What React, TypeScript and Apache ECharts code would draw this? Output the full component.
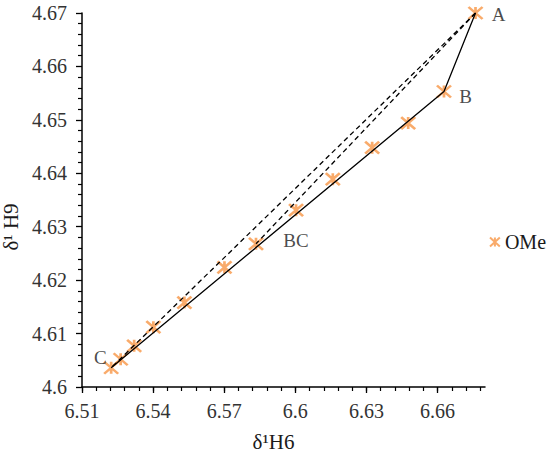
import React, { useEffect, useRef } from "react";
import * as echarts from "echarts";

// Data
const xValues = [6.676, 6.6627, 6.6476, 6.6324, 6.6158, 6.6003, 6.5834, 6.5701, 6.5532, 6.5401, 6.532, 6.5263, 6.5223];
const yValues = [4.67, 4.6553, 4.6494, 4.6448, 4.6389, 4.6331, 4.6268, 4.6224, 4.6158, 4.6112, 4.6077, 4.6052, 4.6036];
const pointNames = ["A", "B", "", "", "", "", "BC", "", "", "", "", "", "C"];
const solidPath = ["A", "B", "C"];
const dashedPaths = [["A", "C"], ["A", "BC"]];
const seriesName = "OMe";

const xMin = 6.51;
const xMax = 6.68;
const xMajorTicks = [6.51, 6.54, 6.57, 6.6, 6.63, 6.66];
const xMinorStep = 0.006;
const yMin = 4.6;
const yMax = 4.67;
const yStep = 0.01;

const ORANGE = "#F79646";
const FONT = "'Liberation Serif', 'Times New Roman', serif";
const STAR = "path://M0,0L12,11M12,0L0,11M6,0L6,11";

const labelPlacement: Record<string, any> = {
  A: { position: "right", distance: 8, offset: [0, 1] },
  B: { position: "right", distance: 7, offset: [0, 5] },
  BC: { position: "right", distance: 19, offset: [0, -3] },
  C: { position: "left", distance: 0, offset: [4, -10] },
};

function coordOf(name: string): [number, number] {
  const i = pointNames.indexOf(name);
  return [xValues[i], yValues[i]];
}

export default function App() {
  const ref = useRef<HTMLDivElement>(null);
  useEffect(() => {
    if (!ref.current) return;
    const chart = echarts.init(ref.current, null, { renderer: "svg" });

    const minorTicks: number[] = [];
    for (let k = 0; xMin + k * xMinorStep <= xMax + 1e-9; k++) {
      minorTicks.push(Math.round((xMin + k * xMinorStep) * 1000) / 1000);
    }

    const scatterData = xValues.map((x, i) => {
      const nm = pointNames[i];
      const item: any = { value: [x, yValues[i]] };
      if (nm) {
        const p = labelPlacement[nm];
        item.label = {
          show: true,
          formatter: nm,
          position: p.position,
          distance: p.distance,
          offset: p.offset,
          fontFamily: FONT,
          fontSize: 19,
          color: "#1a1a1a",
        };
      }
      return item;
    });

    const lineStyleBase = { color: "#000", width: 1.3 };

    const series: any[] = [
      {
        name: seriesName,
        type: "scatter",
        data: scatterData,
        symbol: STAR,
        symbolSize: [14, 12],
        itemStyle: { color: ORANGE, borderColor: ORANGE, borderWidth: 2.5 },
        z: 2,
      },
      {
        name: "solid",
        type: "line",
        data: solidPath.map(coordOf),
        symbol: "none",
        lineStyle: { ...lineStyleBase, type: "solid" },
        z: 3,
        silent: true,
      },
      ...dashedPaths.map((p, k) => ({
        name: "dashed" + k,
        type: "line",
        data: p.map(coordOf),
        symbol: "none",
        lineStyle: { ...lineStyleBase, type: [5, 3.5] },
        z: 3,
        silent: true,
      })),
    ];

    chart.setOption({
      animation: false,
      textStyle: { fontFamily: FONT },
      grid: { left: 82, top: 13, right: 65, bottom: 72, containLabel: false, outerBoundsMode: "none" },
      legend: {
        data: [seriesName],
        left: 484,
        top: 227,
        icon: STAR,
        itemWidth: 10,
        itemHeight: 9,
        itemGap: 3,
        textStyle: { fontFamily: FONT, fontSize: 20, color: "#1a1a1a" },
      },
      xAxis: [
        {
          type: "value",
          min: xMin,
          max: xMax,
          position: "bottom",
          name: "δ¹H6",
          nameLocation: "middle",
          nameGap: 44,
          nameTextStyle: { fontFamily: FONT, fontSize: 21, color: "#1a1a1a", padding: [0, 20, 0, 0] },
          axisLine: { show: true, onZero: false, lineStyle: { color: "#000", width: 1.5 } },
          axisTick: { show: true, length: 6, lineStyle: { color: "#000", width: 1.3 }, customValues: xMajorTicks },
          axisLabel: { customValues: xMajorTicks, margin: 14, fontFamily: FONT, fontSize: 20, color: "#333" },
          splitLine: { show: false },
        },
        {
          type: "value",
          min: xMin,
          max: xMax,
          position: "bottom",
          axisLine: { show: false },
          axisTick: { show: true, length: 4, lineStyle: { color: "#000", width: 1.2 }, customValues: minorTicks },
          axisLabel: { show: false },
          splitLine: { show: false },
        },
      ],
      yAxis: {
        type: "value",
        min: yMin,
        max: yMax,
        interval: yStep,
        name: "δ¹ H9",
        nameLocation: "middle",
        nameGap: 51,
        nameTextStyle: { fontFamily: FONT, fontSize: 21, color: "#1a1a1a", padding: [0, 54, 0, 0] },
        axisLine: { show: true, onZero: false, lineStyle: { color: "#000", width: 1.5 } },
        axisTick: { show: true, length: 6, lineStyle: { color: "#000", width: 1.3 } },
        minorTick: { show: true, splitNumber: 5, length: 4, lineStyle: { color: "#000", width: 1.2 } },
        axisLabel: { margin: 15, fontFamily: FONT, fontSize: 20, color: "#333" },
        splitLine: { show: false },
      },
      series,
    });
    return () => chart.dispose();
  }, []);
  return <div ref={ref} style={{ position: "absolute", left: 0, top: 0, width: 550, height: 459 }} />;
}
